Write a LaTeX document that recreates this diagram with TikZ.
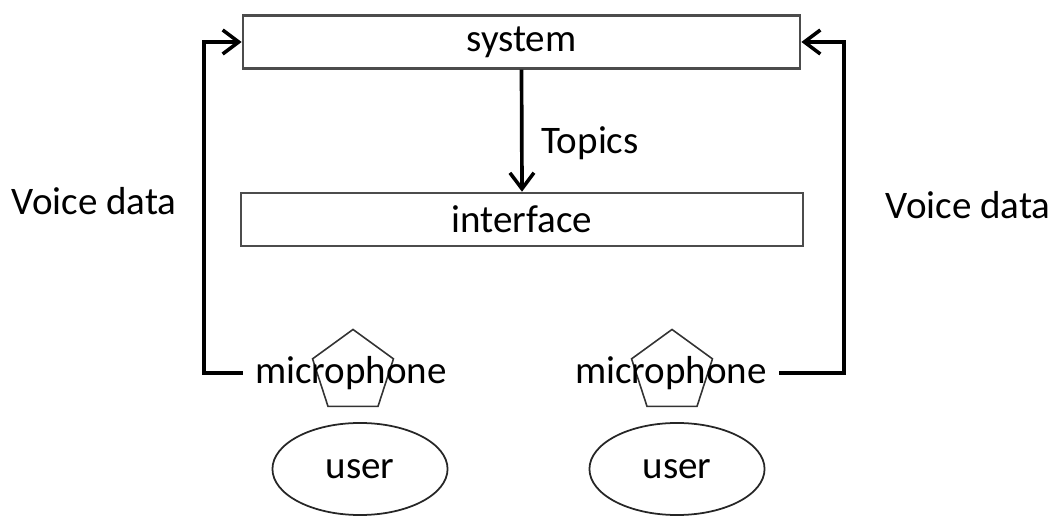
\documentclass[tikz,border=0pt]{standalone}
\usepackage{fontspec}
\setmainfont{Carlito}
\usepackage{tikz}
\usetikzlibrary{arrows.meta,shapes.geometric,positioning}
\tikzstyle{box}  =
[
	draw=black!70,rectangle,line width=0.7pt,inner sep=0pt,
	minimum height=5.3mm
]
\tikzstyle{mic} =
[
	draw=black!80,regular polygon,regular polygon sides=5,
	line width=0.45pt,fill=white,minimum size=8.5mm,inner sep=0pt
]
\tikzstyle{person} =
[
	draw=black!85,ellipse,line width=0.5pt,inner sep=0pt,
	minimum width=17.5mm,minimum height=9.2mm
]
\tikzstyle{flow} =
[
	->,line width=1.05pt,
	>={Straight Barb[length=1.6mm,width=2.4mm,line width=1pt]}
]

\begin{document}
\begin{tikzpicture}[x=0.01cm,y=-0.01cm,font=\fontsize{11.1}{13}\selectfont]
\useasboundingbox (0,0) rectangle (1055,516);

\node[box,minimum width=55.7mm] (sys) at (521.5,42)  {system};
\node[box,minimum width=56.2mm] (ifc) at (522,219.5) {interface};

% microphones, with the label over the pentagon
\node[mic] (penL) at (353,372) {};
\node[mic] (penR) at (672,372) {};
\node (micL) at (351,373) {microphone};
\node (micR) at (671,373) {microphone};

\node[person] (userL) at (360,469) {user};
\node[person] (userR) at (677,469) {user};

\node (voiceL) at (94,201)  {Voice data};
\node (voiceR) at (968,205) {Voice data};

\draw[flow] (sys.south) -- (ifc.north)
	node[pos=0.6,right=0.6mm] (topics) {Topics};

\draw[flow] (micL.west) -- ++(-39,0) |- (sys.west);
\draw[flow] (micR.east) -- ++(65,0) |- (sys.east);

\end{tikzpicture}
\end{document}
